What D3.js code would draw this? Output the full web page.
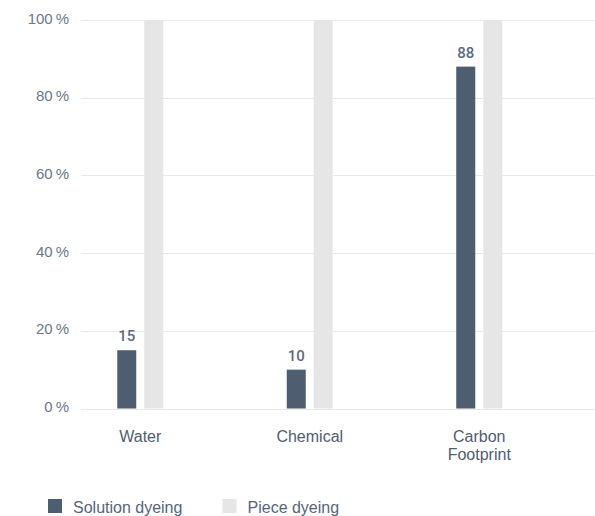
<!DOCTYPE html>
<html>
<head>
<meta charset="utf-8">
<script src="https://cdn.jsdelivr.net/npm/d3@7"></script>
<style>
  html, body { margin: 0; padding: 0; background: #ffffff; }
  svg { display: block; font-family: "Liberation Sans", Arial, Helvetica, sans-serif; }
</style>
</head>
<body>
<svg id="chart" width="595" height="516"></svg>
<script>
const categories = ["Water", "Chemical", "Carbon Footprint"];
const seriesNames = ["Solution dyeing", "Piece dyeing"];
const solutionDyeing = [15, 10, 88];
const pieceDyeing = [100, 100, 100];
const yTicks = [0, 20, 40, 60, 80, 100];
const colors = ["#4f5d70", "#e6e6e6"];

const svg = d3.select("#chart");
const W = 595;

const y = d3.scaleLinear().domain([0, 100]).range([408.5, 20]);
const x = d3.scaleBand().domain(categories).range([55.5, 564]).paddingInner(0).paddingOuter(0);
const barW = 19, gap = 8;

// y labels
const yAxis = d3.axisLeft(y).tickValues(yTicks).tickSize(0).tickFormat(d => d + "\u2009%");
const gy = svg.append("g").attr("transform", "translate(69,0)").call(yAxis);
gy.select(".domain").remove();
gy.selectAll("text").attr("x", 0).attr("dy", "0.2em").attr("dx", 0)
  .attr("font-size", 15).attr("fill", "#6a7888")
  .attr("font-family", "'Liberation Sans', Arial, sans-serif");

// gridlines
svg.append("g").selectAll("line").data(yTicks).join("line")
  .attr("x1", 81).attr("x2", W)
  .attr("y1", d => Math.round(y(d)) + 0.5).attr("y2", d => Math.round(y(d)) + 0.5)
  .attr("stroke", "#e8e8e8").attr("stroke-width", 1);

// bars
const data = categories.map((c, i) => ({ c, vals: [solutionDyeing[i], pieceDyeing[i]] }));
const groups = svg.append("g").selectAll("g").data(data).join("g")
  .attr("transform", d => `translate(${x(d.c) + x.bandwidth() / 2},0)`);

groups.selectAll("rect").data(d => d.vals.map((v, k) => ({ v, k }))).join("rect")
  .attr("x", d => d.k === 0 ? -(barW + gap / 2) : gap / 2)
  .attr("width", barW)
  .attr("y", d => y(d.v))
  .attr("height", d => y(0) - y(d.v))
  .attr("fill", d => colors[d.k]);

// value labels for solution dyeing
groups.append("text")
  .attr("x", -(barW + gap / 2) + barW / 2)
  .attr("y", d => y(d.vals[0]) - 9)
  .attr("text-anchor", "middle")
  .attr("font-family", "Roboto, 'Liberation Sans', Arial, sans-serif")
  .attr("font-size", 15).attr("font-weight", 500).attr("fill", "#5c6b7e")
  .text(d => d.vals[0]);

// x labels
const xAxis = d3.axisBottom(x).tickSize(0);
const gx = svg.append("g").attr("transform", `translate(0,${y(0)})`).call(xAxis);
gx.select(".domain").remove();
gx.selectAll("text").remove();
gx.selectAll(".tick").each(function(d) {
  const words = d.split(" ");
  const t = d3.select(this).append("text")
    .attr("text-anchor", "middle").attr("font-size", 16).attr("fill", "#4f5d70")
    .attr("font-family", "'Liberation Sans', Arial, sans-serif");
  words.forEach((w, i) => {
    t.append("tspan").attr("x", 0).attr("y", 33 + i * 18).text(w);
  });
});

// legend
const legend = svg.append("g").attr("transform", "translate(48,499)");
const li = legend.selectAll("g").data(seriesNames).join("g")
  .attr("transform", (d, i) => `translate(${i * 174.5},0)`);
li.append("rect").attr("width", 14).attr("height", 14).attr("fill", (d, i) => colors[i]);
li.append("text").attr("x", 25).attr("y", 13.5)
  .attr("font-size", 16).attr("fill", "#56657a").text(d => d);
</script>
</body>
</html>
